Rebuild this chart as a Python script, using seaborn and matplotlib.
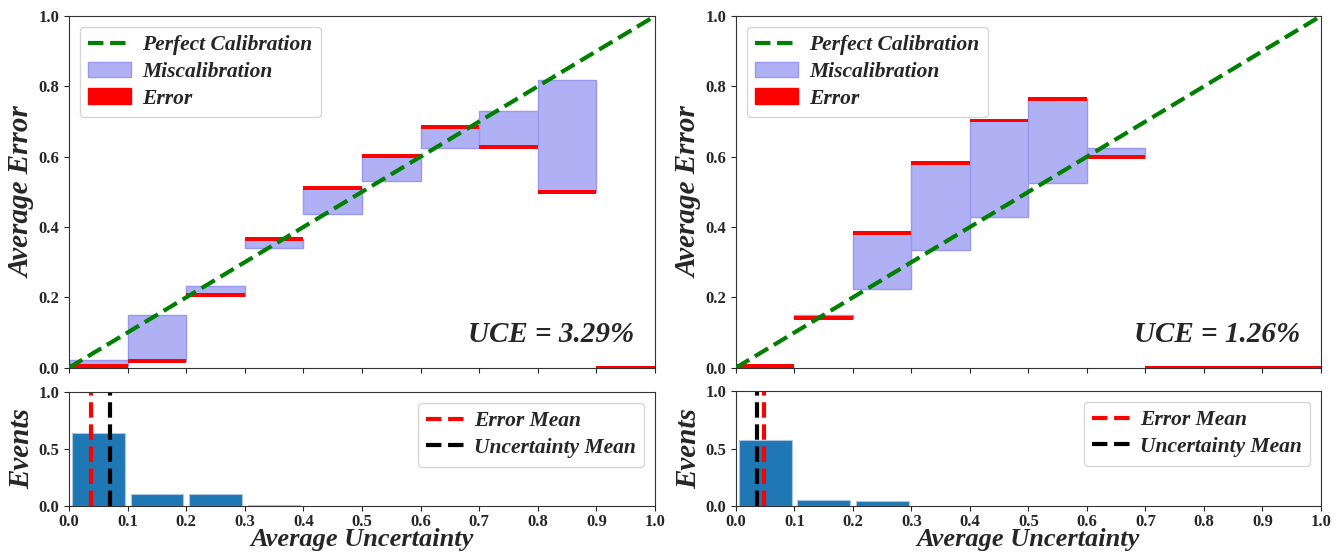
import numpy as np
import matplotlib
matplotlib.use("Agg")
import matplotlib.pyplot as plt
import seaborn as sns
from matplotlib.patches import Patch
from matplotlib.lines import Line2D

#  DATA
bin_edges   = [0.0, 0.1, 0.2, 0.3, 0.4, 0.5, 0.6, 0.7, 0.8, 0.9, 1.0]
bin_centers = [0.05, 0.15, 0.25, 0.35, 0.45, 0.55, 0.65, 0.75, 0.85, 0.95]

# left model
unc_left   = [0.021, 0.151, 0.232, 0.339, 0.436, 0.532, 0.626, 0.729, 0.817, 0.0]
err_left   = [0.004, 0.019, 0.207, 0.367, 0.512, 0.601, 0.685, 0.628, 0.499, 0.0]
hist_left  = [0.637, 0.108, 0.102, 0.012, 0.0, 0.0, 0.0, 0.0, 0.0, 0.0]
err_mean_left = 0.038
unc_mean_left = 0.070
uce_left = "UCE = 3.29%"

# right model
unc_right  = [0.006, 0.151, 0.225, 0.335, 0.429, 0.524, 0.626, 0.0, 0.0, 0.0]
err_right  = [0.006, 0.141, 0.383, 0.582, 0.703, 0.763, 0.599, 0.0, 0.0, 0.0]
hist_right = [0.572, 0.056, 0.044, 0.0, 0.0, 0.0, 0.0, 0.0, 0.0, 0.0]
err_mean_right = 0.048
unc_mean_right = 0.036
uce_right = "UCE = 1.26%"

sns.set_style("ticks")
plt.rcParams['font.family'] = ['Liberation Serif', 'DejaVu Serif']
plt.rcParams['axes.edgecolor'] = '#333333'

LBL = dict(fontweight='bold', fontstyle='italic')
LEG = dict(size=15.5, weight='bold', style='italic')
FILL = '#b0b0f5'
EDGE = '#9898ee'

fig = plt.figure(figsize=(13.42, 5.54), dpi=100)


def draw_panel(x0, width, unc, err, hist, err_mean, unc_mean, uce, bottom_h):
    ax = fig.add_axes([x0, 0.3363, width, 0.6348])
    ah = fig.add_axes([x0, 0.0866, width, bottom_h])

    # calibration diagram
    sns.lineplot(x=[0, 1], y=[0, 1], ax=ax, color='green', linestyle='--',
                 linewidth=3, zorder=3)
    unc = np.array(unc)
    err = np.array(err)
    lo = np.minimum(unc, err)
    hi = np.maximum(unc, err)
    ax.bar(bin_centers, hi - lo, bottom=lo, width=0.1, color=FILL,
           edgecolor=EDGE, linewidth=1, zorder=1)
    ax.bar(bin_centers, 0.011, bottom=err - 0.0055, width=0.1, color='red',
           linewidth=0, zorder=2)

    ax.set_xlim(0, 1)
    ax.set_ylim(0, 1)
    ax.set_xticks(bin_edges)
    ax.set_xticklabels([])
    ax.set_yticks([0.0, 0.2, 0.4, 0.6, 0.8, 1.0])
    ax.set_yticklabels(['0.0', '0.2', '0.4', '0.6', '0.8', '1.0'],
                       fontweight='bold', fontsize=12)
    ax.set_ylabel('Average Error', fontsize=21, labelpad=2, **LBL)
    ax.text(0.965, 0.055, uce, transform=ax.transAxes, ha='right', va='bottom',
            fontsize=21, **LBL)

    handles = [Line2D([0], [0], color='green', linestyle='--', linewidth=3),
               Patch(facecolor=FILL, edgecolor=EDGE),
               Patch(facecolor='red', edgecolor='red')]
    ax.legend(handles, ['Perfect Calibration', 'Miscalibration', 'Error'],
              loc='upper left', prop=LEG, borderaxespad=0.5, labelspacing=0.3,
              handletextpad=0.5)

    # histogram of events
    sns.histplot(x=bin_centers, weights=hist, bins=bin_edges, shrink=0.9,
                 color='#1f77b4', alpha=1, edgecolor='#aac8e4', linewidth=0.8,
                 ax=ah)
    ah.axvline(err_mean, color='red', linestyle='--', linewidth=3,
               label='Error Mean')
    ah.axvline(unc_mean, color='black', linestyle='--', linewidth=3,
               label='Uncertainty Mean')
    ah.set_xlim(0, 1)
    ah.set_ylim(0, 1)
    ah.set_xticks(bin_edges)
    ah.set_xticklabels([f"{v:.1f}" for v in bin_edges], fontweight='bold',
                       fontsize=12)
    ah.tick_params(axis='x', pad=2)
    ah.set_yticks([0.0, 0.5, 1.0])
    ah.set_yticklabels(['0.0', '0.5', '1.0'], fontweight='bold', fontsize=12)
    ah.set_ylabel('Events', fontsize=21, labelpad=2, **LBL)
    ah.set_xlabel('Average Uncertainty', fontsize=19, labelpad=-1, **LBL)
    ah.legend(loc='upper right', prop=LEG, borderaxespad=0.5,
              labelspacing=0.3, handletextpad=0.2, borderpad=0.4)


draw_panel(0.0514, 0.4367, unc_left, err_left, hist_left,
           err_mean_left, unc_mean_left, uce_left, 0.2058)
draw_panel(0.5484, 0.4359, unc_right, err_right, hist_right,
           err_mean_right, unc_mean_right, uce_right, 0.2076)

fig.savefig("out.png", dpi=100)
